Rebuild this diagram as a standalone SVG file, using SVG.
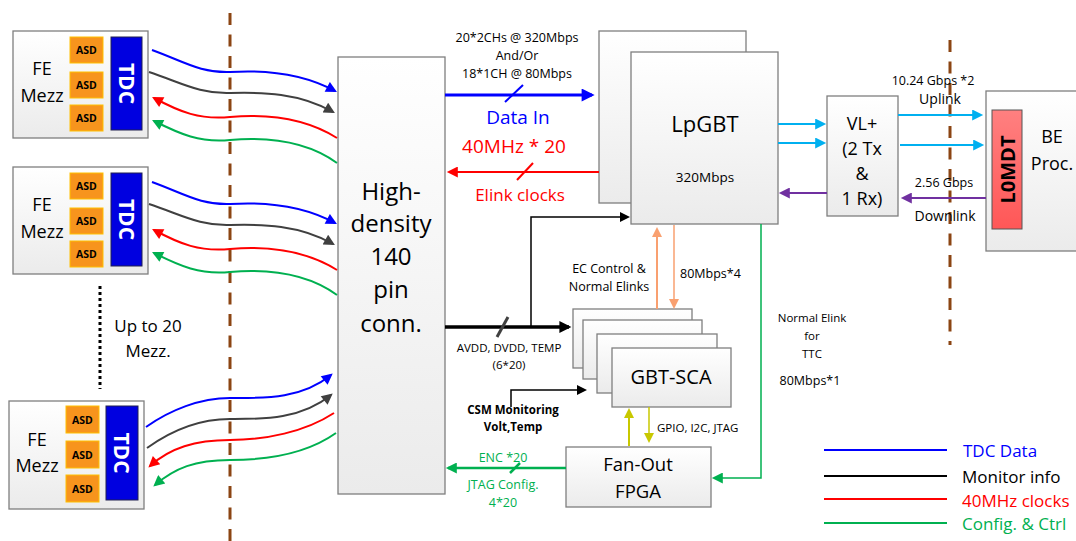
<svg xmlns="http://www.w3.org/2000/svg" width="1076" height="541" viewBox="0 0 1076 541">
<defs>
<linearGradient id="gBox" x1="0" y1="0" x2="0" y2="1"><stop offset="0" stop-color="#ffffff"/><stop offset="1" stop-color="#ebebeb"/></linearGradient>
<linearGradient id="gRed" x1="0" y1="0" x2="0" y2="1"><stop offset="0" stop-color="#ff8080"/><stop offset="1" stop-color="#ff5757"/></linearGradient>
<marker id="aBlue" viewBox="0 0 10 10" refX="8" refY="5" markerUnits="userSpaceOnUse" markerWidth="13" markerHeight="11" orient="auto"><path d="M0,0L10,5L0,10z" fill="#0000ff"/></marker>
<marker id="aDark" viewBox="0 0 10 10" refX="8" refY="5" markerUnits="userSpaceOnUse" markerWidth="13" markerHeight="11" orient="auto"><path d="M0,0L10,5L0,10z" fill="#404040"/></marker>
<marker id="aRed" viewBox="0 0 10 10" refX="8" refY="5" markerUnits="userSpaceOnUse" markerWidth="13" markerHeight="11" orient="auto"><path d="M0,0L10,5L0,10z" fill="#ff0000"/></marker>
<marker id="aGreen" viewBox="0 0 10 10" refX="8" refY="5" markerUnits="userSpaceOnUse" markerWidth="13" markerHeight="11" orient="auto"><path d="M0,0L10,5L0,10z" fill="#00b050"/></marker>
<marker id="aBlueBig" viewBox="0 0 10 10" refX="8" refY="5" markerUnits="userSpaceOnUse" markerWidth="15" markerHeight="13" orient="auto"><path d="M0,0L10,5L0,10z" fill="#0000ff"/></marker>
<marker id="aBlackBig" viewBox="0 0 10 10" refX="8" refY="5" markerUnits="userSpaceOnUse" markerWidth="15" markerHeight="12" orient="auto"><path d="M0,0L10,5L0,10z" fill="#000"/></marker>
<marker id="aBlack" viewBox="0 0 10 10" refX="8" refY="5" markerUnits="userSpaceOnUse" markerWidth="12" markerHeight="10" orient="auto"><path d="M0,0L10,5L0,10z" fill="#000"/></marker>
<marker id="aOrange" viewBox="0 0 10 10" refX="8" refY="5" markerUnits="userSpaceOnUse" markerWidth="12" markerHeight="10" orient="auto"><path d="M0,0L10,5L0,10z" fill="#f9a070"/></marker>
<marker id="aYellow" viewBox="0 0 10 10" refX="8" refY="5" markerUnits="userSpaceOnUse" markerWidth="12" markerHeight="10" orient="auto"><path d="M0,0L10,5L0,10z" fill="#c8c800"/></marker>
<marker id="aCyan" viewBox="0 0 10 10" refX="8" refY="5" markerUnits="userSpaceOnUse" markerWidth="13" markerHeight="11" orient="auto"><path d="M0,0L10,5L0,10z" fill="#00b0f0"/></marker>
<marker id="aPurple" viewBox="0 0 10 10" refX="8" refY="5" markerUnits="userSpaceOnUse" markerWidth="13" markerHeight="11" orient="auto"><path d="M0,0L10,5L0,10z" fill="#7030a0"/></marker>
</defs>
<style>
text{font-family:"Open Sans","Liberation Sans",sans-serif;fill:#000}
.box{fill:url(#gBox);stroke:#7f7f7f;stroke-width:1.3}
.asd{fill:#f7941d;stroke:#ffc000;stroke-width:1}
.tdc{fill:#0000e0;stroke:#202050;stroke-width:1}
.tasd{font-size:10.5px;font-weight:bold;text-anchor:middle}
.ttdc{font-size:21px;font-weight:bold;fill:#fff;text-anchor:middle;dominant-baseline:central}
.tfe{font-size:18px;text-anchor:middle}
.mid{text-anchor:middle}
.c{fill:none;stroke-width:2}
.dash{fill:none;stroke:#8b4513;stroke-width:3;stroke-dasharray:12 9.5}
</style>

<g id="dividers">
<line class="dash" x1="230" y1="13" x2="230" y2="541"/>
<line class="dash" x1="950" y1="40" x2="950" y2="345"/>
<line x1="100" y1="286" x2="100" y2="389" stroke="#000" stroke-width="3" stroke-dasharray="3 3"/>
<text x="148" y="332" font-size="17" class="mid">Up to 20</text>
<text x="148" y="357" font-size="17" class="mid">Mezz.</text>
</g>

<g id="fe1">
<rect class="box" x="13" y="31" width="135" height="107"/>
<rect class="asd" x="70" y="37" width="33" height="26"/><text class="tasd" x="86.5" y="54">ASD</text>
<rect class="asd" x="70" y="72" width="33" height="26"/><text class="tasd" x="86.5" y="89">ASD</text>
<rect class="asd" x="70" y="105" width="33" height="26"/><text class="tasd" x="86.5" y="122">ASD</text>
<rect class="tdc" x="111" y="37" width="31" height="93"/>
<text class="ttdc" transform="translate(126.5,83.5) rotate(90)">TDC</text>
<text class="tfe" x="42" y="75">FE</text><text class="tfe" x="42" y="102">Mezz</text>
</g>
<g id="fe2" transform="translate(0,136)">
<rect class="box" x="13" y="31" width="135" height="107"/>
<rect class="asd" x="70" y="37" width="33" height="26"/><text class="tasd" x="86.5" y="54">ASD</text>
<rect class="asd" x="70" y="72" width="33" height="26"/><text class="tasd" x="86.5" y="89">ASD</text>
<rect class="asd" x="70" y="105" width="33" height="26"/><text class="tasd" x="86.5" y="122">ASD</text>
<rect class="tdc" x="111" y="37" width="31" height="93"/>
<text class="ttdc" transform="translate(126.5,83.5) rotate(90)">TDC</text>
<text class="tfe" x="42" y="75">FE</text><text class="tfe" x="42" y="102">Mezz</text>
</g>
<g id="fe3" transform="translate(-4,370)">
<rect class="box" x="13" y="31" width="135" height="108"/>
<rect class="asd" x="70" y="36" width="33" height="27"/><text class="tasd" x="86.5" y="54">ASD</text>
<rect class="asd" x="70" y="71" width="33" height="27"/><text class="tasd" x="86.5" y="89">ASD</text>
<rect class="asd" x="70" y="105" width="33" height="27"/><text class="tasd" x="86.5" y="123">ASD</text>
<rect class="tdc" x="110" y="36" width="32" height="94"/>
<text class="ttdc" transform="translate(126,83) rotate(90)">TDC</text>
<text class="tfe" x="41" y="76">FE</text><text class="tfe" x="41" y="102">Mezz</text>
</g>

<g id="hd">
<rect class="box" x="338" y="57" width="107" height="437"/>
<text x="391" y="200" font-size="24" class="mid">High-</text>
<text x="391" y="232" font-size="24" class="mid">density</text>
<text x="391" y="265" font-size="24" class="mid">140</text>
<text x="391" y="298" font-size="24" class="mid">pin</text>
<text x="391" y="332" font-size="24" class="mid">conn.</text>
</g>

<g id="lpgbt">
<rect class="box" x="599" y="31" width="147" height="172"/>
<rect class="box" x="631" y="52" width="147" height="172"/>
<text x="705" y="132" font-size="22" class="mid">LpGBT</text>
<text x="705" y="182" font-size="13.5" class="mid">320Mbps</text>
</g>

<g id="vl">
<rect class="box" x="827" y="96" width="71" height="120"/>
<text x="862" y="130" font-size="18" class="mid">VL+</text>
<text x="862" y="155" font-size="18" class="mid">(2 Tx</text>
<text x="862" y="180" font-size="18" class="mid">&amp;</text>
<text x="862" y="205" font-size="18" class="mid">1 Rx)</text>
</g>

<g id="be">
<rect class="box" x="986" y="91" width="100" height="160"/>
<rect x="992" y="110" width="30" height="119" fill="url(#gRed)" stroke="#555" stroke-width="1"/>
<text transform="translate(1007,169.5) rotate(-90)" font-size="20" font-weight="bold" class="mid" dominant-baseline="central">L0MDT</text>
<text x="1052" y="143" font-size="18" class="mid">BE</text>
<text x="1052" y="170" font-size="18" class="mid">Proc.</text>
</g>

<g id="gbtsca">
<rect class="box" x="573" y="309" width="119" height="59"/>
<rect class="box" x="583" y="320" width="119" height="59"/>
<rect class="box" x="597" y="334" width="120" height="59"/>
<rect class="box" x="612" y="348" width="119" height="59"/>
<text x="671" y="384" font-size="20" class="mid">GBT-SCA</text>
</g>

<g id="fpga">
<rect class="box" x="566" y="447" width="145" height="60"/>
<text x="638" y="471" font-size="18.5" class="mid">Fan-Out</text>
<text x="638" y="498" font-size="18.5" class="mid">FPGA</text>
</g>

<g id="connectors">
<g id="curves1">
<path class="c" stroke="#0000ff" marker-end="url(#aBlue)" d="M152,50 C185,62 200,73 230,72 C262,70 300,72 335,91"/>
<path class="c" stroke="#404040" marker-end="url(#aDark)" d="M149,72 C182,83 200,94 230,93 C262,92 300,93 333,112"/>
<path class="c" stroke="#ff0000" marker-end="url(#aRed)" d="M337,138 C305,118 265,114 230,117 C200,120 180,112 154,98"/>
<path class="c" stroke="#00b050" marker-end="url(#aGreen)" d="M337,163 C305,140 265,137 230,140 C200,143 180,134 154,121"/>
</g>
<g id="curves2" transform="translate(0,132)">
<path class="c" stroke="#0000ff" marker-end="url(#aBlue)" d="M152,50 C185,62 200,73 230,72 C262,70 300,72 335,91"/>
<path class="c" stroke="#404040" marker-end="url(#aDark)" d="M149,72 C182,83 200,94 230,93 C262,92 300,93 333,112"/>
<path class="c" stroke="#ff0000" marker-end="url(#aRed)" d="M337,138 C305,118 265,114 230,117 C200,120 180,112 154,98"/>
<path class="c" stroke="#00b050" marker-end="url(#aGreen)" d="M337,163 C305,140 265,137 230,140 C200,143 180,134 154,121"/>
</g>
<g id="curves3">
<path class="c" stroke="#0000ff" marker-end="url(#aBlue)" d="M146,427 C170,410 200,398 230,398 C262,398 300,400 331,375"/>
<path class="c" stroke="#404040" marker-end="url(#aDark)" d="M147,448 C172,430 200,419 230,419 C262,419 300,420 331,395"/>
<path class="c" stroke="#ff0000" marker-end="url(#aRed)" d="M334,413 C305,432 265,440 230,440 C195,440 170,448 150,466"/>
<path class="c" stroke="#00b050" marker-end="url(#aGreen)" d="M336,433 C305,455 265,460 230,460 C195,460 175,468 155,485"/>
</g>

<line x1="445" y1="95" x2="592" y2="95" stroke="#0000ff" stroke-width="3" marker-end="url(#aBlueBig)"/>
<line x1="505" y1="102" x2="523" y2="85" stroke="#0000ff" stroke-width="2"/>
<line x1="599" y1="172" x2="449" y2="172" stroke="#ff0000" stroke-width="2" marker-end="url(#aRed)"/>
<line x1="517" y1="180" x2="533" y2="163" stroke="#ff0000" stroke-width="2"/>

<line x1="445" y1="327" x2="569" y2="327" stroke="#000" stroke-width="3.5" marker-end="url(#aBlackBig)"/>
<line x1="497" y1="337" x2="508" y2="317" stroke="#404040" stroke-width="3"/>
<polyline points="531,327 531,217 628,217" fill="none" stroke="#000" stroke-width="1.5" marker-end="url(#aBlack)"/>
<polyline points="511,407 511,390 585,390" fill="none" stroke="#000" stroke-width="1.5" marker-end="url(#aBlack)"/>

<line x1="657" y1="309" x2="657" y2="229" stroke="#f9a070" stroke-width="2" marker-end="url(#aOrange)"/>
<line x1="674" y1="225" x2="674" y2="307" stroke="#f9a070" stroke-width="1.5" marker-end="url(#aOrange)"/>
<line x1="629" y1="446" x2="629" y2="410" stroke="#c8c800" stroke-width="2" marker-end="url(#aYellow)"/>
<line x1="649" y1="407" x2="649" y2="441" stroke="#c8c800" stroke-width="1.5" marker-end="url(#aYellow)"/>

<line x1="566" y1="468" x2="448" y2="468" stroke="#00b050" stroke-width="2.5" marker-end="url(#aGreen)"/>
<line x1="510" y1="473" x2="520" y2="463" stroke="#00b050" stroke-width="2.5"/>
<polyline points="761,224 761,478 714,478" fill="none" stroke="#00b050" stroke-width="1.5" marker-end="url(#aGreen)"/>

<line x1="778" y1="124" x2="824" y2="124" stroke="#00b0f0" stroke-width="2" marker-end="url(#aCyan)"/>
<line x1="778" y1="143" x2="824" y2="143" stroke="#00b0f0" stroke-width="2" marker-end="url(#aCyan)"/>
<line x1="827" y1="193" x2="781" y2="193" stroke="#7030a0" stroke-width="2" marker-end="url(#aPurple)"/>
<line x1="898" y1="115" x2="981" y2="115" stroke="#00b0f0" stroke-width="2" marker-end="url(#aCyan)"/>
<line x1="900" y1="145" x2="982" y2="145" stroke="#00b0f0" stroke-width="2" marker-end="url(#aCyan)"/>
<line x1="986" y1="198" x2="903" y2="198" stroke="#7030a0" stroke-width="2" marker-end="url(#aPurple)"/>
</g>

<g id="labels">
<text x="517" y="42" font-size="12.5" class="mid">20*2CHs @ 320Mbps</text>
<text x="517" y="60" font-size="12.5" class="mid">And/Or</text>
<text x="517" y="78" font-size="12.5" class="mid">18*1CH @ 80Mbps</text>
<text x="518" y="124" font-size="19" class="mid" style="fill:#0000ff">Data In</text>
<text x="514" y="153" font-size="19" class="mid" style="fill:#ff0000">40MHz * 20</text>
<text x="520" y="201" font-size="17" class="mid" style="fill:#ff0000">Elink clocks</text>
<text x="509" y="352" font-size="11.5" class="mid">AVDD, DVDD, TEMP</text>
<text x="509" y="369" font-size="11.5" class="mid">(6*20)</text>
<text x="609" y="273" font-size="12.5" class="mid">EC Control &amp;</text>
<text x="609" y="291" font-size="12.5" class="mid">Normal Elinks</text>
<text x="680" y="278" font-size="12.5">80Mbps*4</text>
<text x="513" y="414" font-size="11.5" font-weight="bold" class="mid">CSM Monitoring</text>
<text x="513" y="431" font-size="11.5" font-weight="bold" class="mid">Volt,Temp</text>
<text x="657" y="432" font-size="11.5">GPIO, I2C, JTAG</text>
<text x="503" y="462" font-size="12.5" class="mid" style="fill:#00b050">ENC *20</text>
<text x="503" y="489" font-size="12.5" class="mid" style="fill:#00b050">JTAG Config.</text>
<text x="503" y="507" font-size="12.5" class="mid" style="fill:#00b050">4*20</text>
<text x="812" y="322" font-size="11.5" class="mid">Normal Elink</text>
<text x="812" y="340" font-size="11.5" class="mid">for</text>
<text x="812" y="358" font-size="11.5" class="mid">TTC</text>
<text x="810" y="385" font-size="12.5" class="mid">80Mbps*1</text>
<text x="933" y="85" font-size="12.5" class="mid">10.24 Gbps *2</text>
<text x="940" y="104" font-size="14" class="mid">Uplink</text>
<text x="944" y="187" font-size="12.5" class="mid">2.56 Gbps</text>
<text x="945" y="221" font-size="14" class="mid">Downlink</text>
</g>

<g id="legend">
<line x1="824" y1="450" x2="947" y2="450" stroke="#0000ff" stroke-width="2"/>
<line x1="824" y1="476" x2="947" y2="476" stroke="#000" stroke-width="2"/>
<line x1="824" y1="499" x2="947" y2="499" stroke="#ff0000" stroke-width="2"/>
<line x1="824" y1="523" x2="947" y2="523" stroke="#00b050" stroke-width="2"/>
<text x="963" y="457" font-size="17" style="fill:#0000ff">TDC Data</text>
<text x="962" y="483" font-size="17">Monitor info</text>
<text x="962" y="507" font-size="17" style="fill:#ff0000">40MHz clocks</text>
<text x="962" y="530" font-size="17" style="fill:#00b050">Config. &amp; Ctrl</text>
</g>
</svg>
